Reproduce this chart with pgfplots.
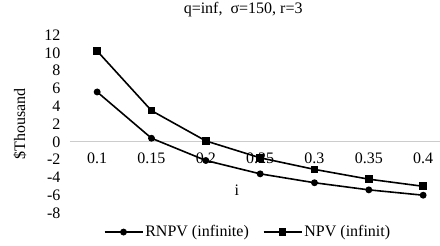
\documentclass[border=0pt]{standalone}
\usepackage{pgfplots}
\pgfplotsset{compat=1.18}
\usepackage{fontspec}
\setmainfont{Liberation Serif}
\begin{document}
\fontsize{16bp}{18bp}\selectfont
\begin{tikzpicture}
\path[use as bounding box] (-70bp,-33bp) rectangle (370bp,213bp);
\begin{axis}[
  scale only axis, width=370bp, height=178bp,
  xmin=-0.5, xmax=6.31, ymin=-8, ymax=12,
  axis x line=middle, axis y line=left,
  x axis line style={-, draw=gray!40, line width=0.8bp},
  y axis line style={draw=none},
  major tick length=0,
  xtick={0,1,2,3,4,5,6},
  xticklabels={0.1,0.15,0.2,0.25,0.3,0.35,0.4},
  ytick={-8,-6,-4,-2,0,2,4,6,8,10,12},
  yticklabels={-8,-6,-4,-2,0,2,4,6,8,10,12},
  tick label style={font=\fontsize{16bp}{18bp}\selectfont},
  x tick label style={yshift=-6bp},
  y tick label style={xshift=-4bp},
  xlabel={i},
  xlabel style={at={(axis description cs:0.451,0.129)}, anchor=center, font=\fontsize{16bp}{18bp}\selectfont},
  ylabel={\$Thousand},
  ylabel style={at={(axis description cs:-0.135,0.5)}, anchor=center, rotate=0, font=\fontsize{16bp}{18bp}\selectfont},
  title={q=inf,\ \ σ=150, r=3},
  title style={at={(axis description cs:0.468,1.112)}, anchor=center, font=\fontsize{16bp}{18bp}\selectfont},
  legend columns=2,
  legend style={at={(axis description cs:0.481,-0.107)}, anchor=center, draw=none, fill=none,
    font=\fontsize{16bp}{18bp}\selectfont, /tikz/every even column/.append style={column sep=12bp},
    inner sep=0pt},
  legend image code/.code={\draw[mark repeat=2,mark phase=2] plot coordinates {(0bp,0bp) (19bp,0bp) (38bp,0bp)};},
  clip=false,
]
\addplot[black, line width=1.6bp, mark=*, mark size=2.6bp] coordinates {
 (0,5.6) (1,0.4) (2,-2.1) (3,-3.6) (4,-4.6) (5,-5.4) (6,-6.0)};
\addlegendentry{RNPV (infinite)}
\addplot[black, line width=1.6bp, mark=square*, mark size=3bp] coordinates {
 (0,10.2) (1,3.5) (2,0.1) (3,-1.8) (4,-3.1) (5,-4.2) (6,-5.0)};
\addlegendentry{NPV (infinit)}
\end{axis}
\end{tikzpicture}
\end{document}
